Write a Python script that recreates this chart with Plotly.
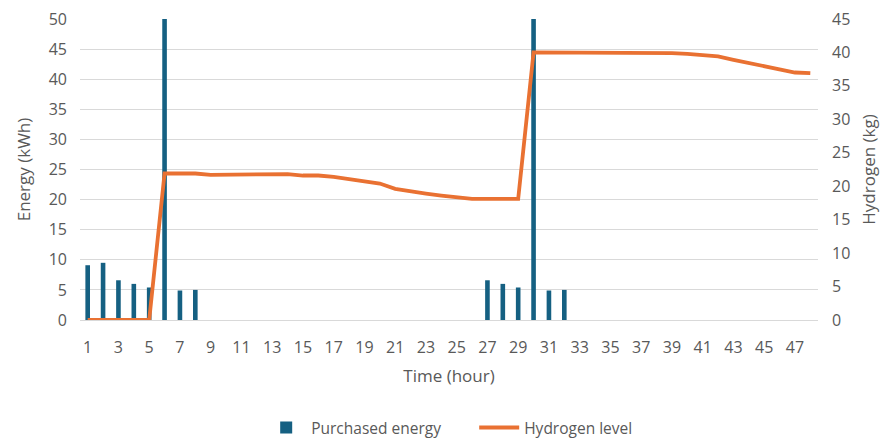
import plotly.graph_objects as go

hours = list(range(1, 49))

purchased_energy = [
    9.1, 9.5, 6.6, 6.0, 5.4, 50.0, 4.9, 5.0, 0, 0,
    0, 0, 0, 0, 0, 0, 0, 0, 0, 0,
    0, 0, 0, 0, 0, 0, 6.6, 6.0, 5.4, 50.0,
    4.9, 5.0, 0, 0, 0, 0, 0, 0, 0, 0,
    0, 0, 0, 0, 0, 0, 0, 0,
]

hydrogen_level = [
    0, 0, 0, 0, 0, 21.9, 21.9, 21.9, 21.7, 21.7,
    21.7, 21.7, 21.8, 21.8, 21.6, 21.6, 21.4, 21.1, 20.8, 20.4,
    19.6, 19.2, 18.9, 18.6, 18.3, 18.1, 18.1, 18.1, 18.1, 40.0,
    40.0, 40.0, 39.9, 39.9, 39.9, 39.9, 39.9, 39.9, 39.9, 39.8,
    39.6, 39.4, 38.9, 38.4, 37.9, 37.4, 37.0, 36.9,
]

x_ticks = list(range(1, 48, 2))
energy_ticks = list(range(0, 51, 5))
hydrogen_ticks = list(range(0, 46, 5))

BLUE = "#156082"
ORANGE = "#E97132"
TEXT = "#595959"
GRID = "#D9D9D9"
FONT = "Open Sans"

fig = go.Figure()

fig.add_trace(go.Bar(
    x=hours,
    y=purchased_energy,
    name="Purchased energy",
    marker=dict(color=BLUE, line=dict(width=0)),
    yaxis="y",
))

fig.add_trace(go.Scatter(
    x=hours,
    y=hydrogen_level,
    name="Hydrogen level",
    mode="lines",
    line=dict(color=ORANGE, width=3.8),
    yaxis="y2",
))

fig.update_layout(
    width=888,
    height=438,
    margin=dict(l=80, r=70, t=19, b=118, autoexpand=False),
    paper_bgcolor="white",
    plot_bgcolor="white",
    font=dict(family=FONT, size=16, color=TEXT),
    bargap=0.7,
    showlegend=True,
    legend=dict(
        orientation="h",
        xref="container",
        yref="container",
        x=0.534,
        xanchor="center",
        y=0.023,
        yanchor="middle",
        font=dict(family=FONT, size=15.5, color=TEXT),
        itemwidth=40,
        entrywidth=158,
        tracegroupgap=0,
    ),
    xaxis=dict(
        range=[0.5, 48.5],
        tickmode="array",
        tickvals=x_ticks,
        ticktext=[str(t) for t in x_ticks],
        showgrid=False,
        zeroline=False,
        showline=True,
        linecolor=GRID,
        linewidth=1,
        ticks="",
        ticklabelstandoff=13,
        tickfont=dict(family=FONT, size=16, color=TEXT),
        title=dict(text="Time (hour)", font=dict(family=FONT, size=17, color=TEXT), standoff=12),
    ),
    yaxis=dict(
        range=[0, 50],
        tickmode="array",
        tickvals=energy_ticks,
        showgrid=True,
        gridcolor=GRID,
        gridwidth=1,
        zeroline=False,
        ticks="",
        ticklabelstandoff=12,
        tickfont=dict(family=FONT, size=16, color=TEXT),
        title=dict(text="Energy (kWh)", font=dict(family=FONT, size=17, color=TEXT), standoff=13),
    ),
    yaxis2=dict(
        range=[0, 45],
        overlaying="y",
        side="right",
        tickmode="array",
        tickvals=hydrogen_ticks,
        showgrid=False,
        zeroline=False,
        ticks="",
        ticklabelstandoff=13,
        tickfont=dict(family=FONT, size=16, color=TEXT),
        title=dict(text="Hydrogen (kg)", font=dict(family=FONT, size=17, color=TEXT), standoff=13),
    ),
)

fig.write_html("out.html")
